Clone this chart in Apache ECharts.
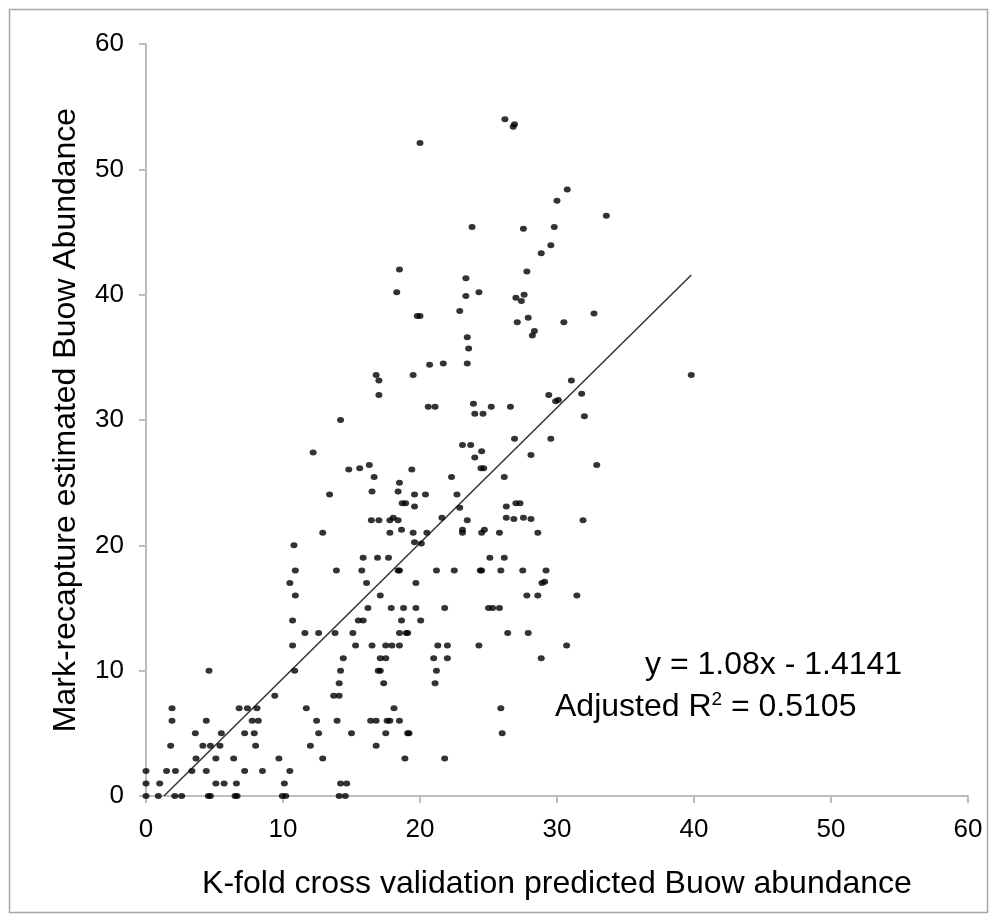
<!DOCTYPE html>
<html>
<head>
<meta charset="utf-8">
<title>Buow abundance: K-fold prediction vs mark-recapture</title>
<script src="https://cdn.jsdelivr.net/npm/echarts@6/dist/echarts.min.js"></script>
<style>
  html, body { margin: 0; padding: 0; background: #ffffff; }
  #chart { width: 995px; height: 921px; }
</style>
</head>
<body>
<div id="chart"></div>
<script>
// K-fold cross validation predicted abundance (x) for each site
const predicted = [
  26.2, 26.9, 26.8, 20.0, 23.8, 18.5, 23.35, 18.3, 23.35, 24.3, 27.0, 19.8, 20.0, 22.9, 27.1, 23.45,
  30.75, 30.0, 33.6, 27.55, 29.8, 29.55, 28.85, 27.8, 27.6, 27.4, 32.7, 27.9, 30.5, 28.35, 28.2,
  12.2, 13.4, 12.9, 10.8, 10.9,
  23.55, 20.7, 21.7, 23.45, 16.8, 17.0, 19.5, 17.0, 20.6, 21.1, 23.9, 24.0, 24.6, 25.2, 26.6, 14.2,
  26.9, 23.1, 23.7, 24.5, 24.0, 24.45, 24.65, 14.8, 15.6, 16.3, 19.4, 16.65, 22.3, 26.15, 18.5,
  16.5, 18.4, 19.6, 20.4, 22.7, 18.7, 18.95, 19.6, 22.9, 26.3, 27.0, 21.6, 16.45, 17.0, 17.8, 18.05,
  18.4, 23.45, 26.3, 26.85, 17.8, 18.65, 19.5, 20.5, 23.1, 23.1, 24.5, 24.7, 25.8, 19.6, 20.1,
  15.85, 16.9, 17.7, 25.1, 26.15,
  13.9, 15.75, 18.4, 18.5, 21.2, 22.5, 24.4, 24.5, 25.9,
  39.8, 31.05, 29.4, 31.8, 29.9, 30.1, 32.0, 29.55, 28.1, 32.9, 27.3, 27.55, 28.1, 31.9, 28.6, 27.5, 29.2,
  28.9, 29.1, 27.8, 28.6, 31.45, 27.9, 30.7, 28.85,
  16.1, 19.7, 17.1,
  16.2, 17.9, 18.8, 19.7, 21.8, 25.0, 25.3, 25.8,
  15.5, 15.85, 18.65, 20.05,
  13.8, 15.1, 18.5, 19.0, 19.1, 26.4,
  15.3, 16.5, 17.5, 17.95, 18.5, 21.3, 22.0, 24.3,
  14.4, 17.1, 17.5, 21.0, 22.0,
  14.2, 16.95, 17.1, 21.2,
  14.1, 17.35, 21.1,
  13.7, 14.1,
  18.1, 25.9,
  13.95, 16.4, 16.8, 17.6, 17.8, 18.5,
  15.0, 17.5, 19.1, 19.2, 26.0,
  16.8,
  18.9, 21.8,
  14.2, 14.65,
  14.1, 14.55,
  10.5, 10.9, 10.7, 11.6, 12.6, 10.7, 4.6, 10.85, 9.4,
  1.9, 6.8, 7.4, 8.1, 11.7,
  1.9, 4.4, 7.75, 8.2, 12.45,
  3.6, 5.5, 7.2, 7.9, 12.6,
  1.8, 4.15, 4.7, 5.4, 8.0, 12.0,
  3.65, 5.1, 6.4, 9.7, 12.9,
  0.0, 1.5, 2.15, 3.35, 4.4, 7.2, 8.5, 10.5,
  0.0, 1.0, 5.1, 5.7, 6.6, 10.1,
  0.0, 0.9, 2.1, 2.6, 4.55, 4.7, 6.5, 6.65, 9.95, 10.2
];

// Mark-recapture estimated abundance (y) for the same sites
const observed = [
  54.0, 53.6, 53.4, 52.1, 45.4, 42.0, 41.3, 40.2, 39.9, 40.2, 39.75, 38.3, 38.3, 38.7, 37.8, 36.6,
  48.4, 47.5, 46.3, 45.25, 45.4, 43.95, 43.3, 41.85, 40.0, 39.5, 38.5, 38.15, 37.8, 37.1, 36.75,
  27.4, 24.05, 21, 20, 18,
  35.7, 34.4, 34.5, 34.5, 33.6, 33.15, 33.6, 32.0, 31.05, 31.05, 31.3, 30.5, 30.5, 31.05, 31.05, 30.0,
  28.5, 28.0, 28.0, 27.5, 27.0, 26.15, 26.15, 26.05, 26.15, 26.4, 26.05, 25.45, 25.45, 25.45, 25.0,
  24.3, 24.3, 24.05, 24.05, 24.05, 23.35, 23.35, 23.1, 23.0, 23.1, 23.35, 22.2, 22, 22, 22, 22.2,
  22, 22, 22.2, 22.1, 21, 21.25, 21, 21, 21.25, 21, 21, 21.25, 21, 20.25, 20.15,
  19, 19, 19, 19, 19,
  18, 18, 18, 18, 18, 18, 18, 18, 18,
  33.6, 33.15, 32.0, 32.1, 31.5, 31.6, 30.3, 28.5, 27.2, 26.4, 23.35, 22.2, 22.1, 22, 21, 18, 18,
  17, 17.1, 16, 16, 16, 13, 12, 11,
  17, 17, 16,
  15, 15, 15, 15, 15, 15, 15, 15,
  14, 14, 14, 14,
  13, 13, 13, 13, 13, 13,
  12, 12, 12, 12, 12, 12, 12, 12,
  11, 11, 11, 11, 11,
  10, 10, 10, 10,
  9, 9, 9,
  8, 8,
  7, 7,
  6, 6, 6, 6, 6, 6,
  5, 5, 5, 5, 5,
  4,
  3, 3,
  1, 1,
  0, 0,
  17, 16, 14, 13, 13, 12, 10, 10, 8,
  7, 7, 7, 7, 7,
  6, 6, 6, 6, 6,
  5, 5, 5, 5, 5,
  4, 4, 4, 4, 4, 4,
  3, 3, 3, 3, 3,
  2, 2, 2, 2, 2, 2, 2, 2,
  1, 1, 1, 1, 1, 1,
  0, 0, 0, 0, 0, 0, 0, 0, 0, 0
];

// Least-squares fit reported on the chart
const fitSlope = 1.08;
const fitIntercept = -1.4141;
const fitR2 = '0.5105';

// Axis tick values
const xTicks = [0, 10, 20, 30, 40, 50, 60];
const yTicks = [0, 10, 20, 30, 40, 50, 60];

const points = predicted.map((x, i) => [x, observed[i]]);

// Trend line runs from where it crosses y = 0 to the largest prediction
const xStart = -fitIntercept / fitSlope;
const xEnd = Math.max.apply(null, predicted);
const fitLine = [
  [xStart, fitSlope * xStart + fitIntercept],
  [xEnd, fitSlope * xEnd + fitIntercept]
];

const FONT = '"Liberation Sans", Arial, sans-serif';
const axisGray = '#bdbdbd';

const chart = echarts.init(document.getElementById('chart'), null, { renderer: 'canvas' });

chart.setOption({
  backgroundColor: '#ffffff',
  animation: false,
  grid: { left: 146, right: 27, top: 44, bottom: 125, containLabel: false },
  xAxis: {
    type: 'value',
    min: xTicks[0],
    max: xTicks[xTicks.length - 1],
    interval: xTicks[1] - xTicks[0],
    name: 'K-fold cross validation predicted Buow abundance',
    nameLocation: 'middle',
    nameGap: 72,
    nameTextStyle: { fontFamily: FONT, fontSize: 32, color: '#000' },
    axisLine: { show: true, lineStyle: { color: axisGray, width: 2 } },
    axisTick: { show: true, inside: false, length: 7, lineStyle: { color: axisGray, width: 2 } },
    axisLabel: { fontFamily: FONT, fontSize: 26, color: '#000', margin: 21 },
    splitLine: { show: false }
  },
  yAxis: {
    type: 'value',
    min: yTicks[0],
    max: yTicks[yTicks.length - 1],
    interval: yTicks[1] - yTicks[0],
    name: 'Mark-recapture estimated Buow Abundance',
    nameLocation: 'middle',
    nameGap: 64,
    nameRotate: 90,
    nameTextStyle: { fontFamily: FONT, fontSize: 32, color: '#000' },
    axisLine: { show: true, lineStyle: { color: axisGray, width: 2 } },
    axisTick: { show: true, inside: false, length: 7, lineStyle: { color: axisGray, width: 2 } },
    axisLabel: { fontFamily: FONT, fontSize: 26, color: '#000', margin: 22 },
    splitLine: { show: false }
  },
  series: [
    {
      name: 'Sites',
      type: 'scatter',
      data: points,
      symbol: 'circle',
      symbolSize: [7, 6],
      itemStyle: { color: '#000000' },
      z: 3
    },
    {
      name: 'Linear fit',
      type: 'line',
      data: fitLine,
      showSymbol: false,
      symbol: 'none',
      lineStyle: { color: '#333333', width: 1.5 },
      z: 2
    }
  ],
  graphic: [
    {
      type: 'rect',
      shape: { x: 9.5, y: 9.5, width: 978, height: 903 },
      style: { fill: 'none', stroke: '#a6a6a6', lineWidth: 1.5 },
      silent: true,
      z: -1
    },
    {
      type: 'text',
      left: 645,
      top: 649,
      style: {
        text: 'y = 1.08x - 1.4141',
        fontFamily: FONT,
        fontSize: 32,
        fill: '#000'
      }
    },
    {
      type: 'text',
      left: 555,
      top: 690,
      style: {
        text: 'Adjusted R{sup|2} = ' + fitR2,
        fontFamily: FONT,
        fontSize: 32,
        fill: '#000',
        rich: {
          sup: { fontFamily: FONT, fontSize: 19, fill: '#000', verticalAlign: 'top', padding: [0, 0, 15, 0] }
        }
      }
    }
  ]
});
</script>
</body>
</html>
